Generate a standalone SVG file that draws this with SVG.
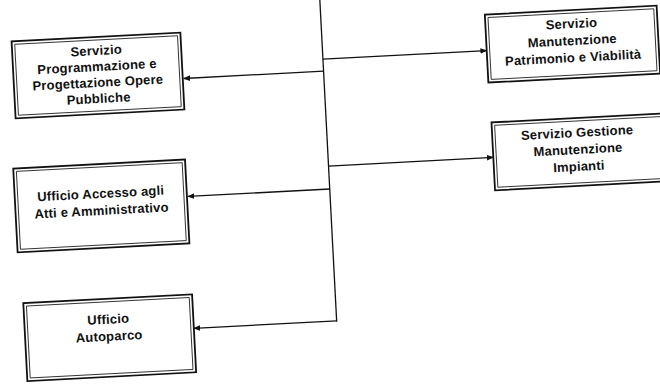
<svg xmlns="http://www.w3.org/2000/svg" width="660" height="388" viewBox="0 0 660 388">
<defs>
<style>
.box{fill:#fff;stroke:#111;stroke-width:1.8}
.inner{fill:none;stroke:#222;stroke-width:0.9}
.lbl{font-family:"Liberation Sans",Arial,sans-serif;font-weight:bold;font-size:13px;fill:#111;text-anchor:middle;letter-spacing:0.2px}
.con{fill:none;stroke:#111;stroke-width:1.3}
</style>
<marker id="ah" viewBox="0 0 10 10" refX="9" refY="5" markerWidth="7" markerHeight="7" markerUnits="userSpaceOnUse" orient="auto">
<path d="M0,1 L10,5 L0,9 z" fill="#111"/>
</marker>
</defs>
<rect width="660" height="388" fill="#fff"/>
<g transform="rotate(-3 330 194)">
<g id="connectors">
<path class="con" d="M330,-8 L330,322"/>
<path class="con" d="M330,59 L494,59" marker-end="url(#ah)"/>
<path class="con" d="M330,71 L190,71" marker-end="url(#ah)"/>
<path class="con" d="M330,166 L495,166" marker-end="url(#ah)"/>
<path class="con" d="M330,189 L188,189" marker-end="url(#ah)"/>
<path class="con" d="M330,321 L187,321" marker-end="url(#ah)"/>
</g>
<g id="n_programmazione">
<rect class="box" x="20" y="25" width="169" height="77"/>
<rect class="inner" x="23" y="28" width="163" height="71"/>
<text class="lbl" x="104" y="43">Servizio</text>
<text class="lbl" x="104" y="59">Programmazione e</text>
<text class="lbl" x="104" y="75">Progettazione Opere</text>
<text class="lbl" x="104" y="91">Pubbliche</text>
</g>
<g id="n_manutenzione_patrimonio">
<rect class="box" x="494" y="23" width="172" height="68"/>
<rect class="inner" x="497" y="26" width="166" height="62"/>
<text class="lbl" x="580" y="41">Servizio</text>
<text class="lbl" x="580" y="58">Manutenzione</text>
<text class="lbl" x="580" y="75">Patrimonio e Viabilità</text>
</g>
<g id="n_gestione_impianti">
<rect class="box" x="495" y="131" width="172" height="68"/>
<rect class="inner" x="498" y="134" width="166" height="62"/>
<text class="lbl" x="580" y="150">Servizio Gestione</text>
<text class="lbl" x="580" y="167">Manutenzione</text>
<text class="lbl" x="580" y="184">Impianti</text>
</g>
<g id="n_accesso_atti">
<rect class="box" x="15" y="152" width="172" height="84"/>
<rect class="inner" x="18" y="155" width="166" height="78"/>
<text class="lbl" x="101" y="186">Ufficio Accesso agli</text>
<text class="lbl" x="101" y="203">Atti e Amministrativo</text>
</g>
<g id="n_autoparco">
<rect class="box" x="18" y="287" width="169" height="78"/>
<rect class="inner" x="21" y="290" width="163" height="72"/>
<text class="lbl" x="102" y="312">Ufficio</text>
<text class="lbl" x="102" y="329">Autoparco</text>
</g>
</g>
</svg>
